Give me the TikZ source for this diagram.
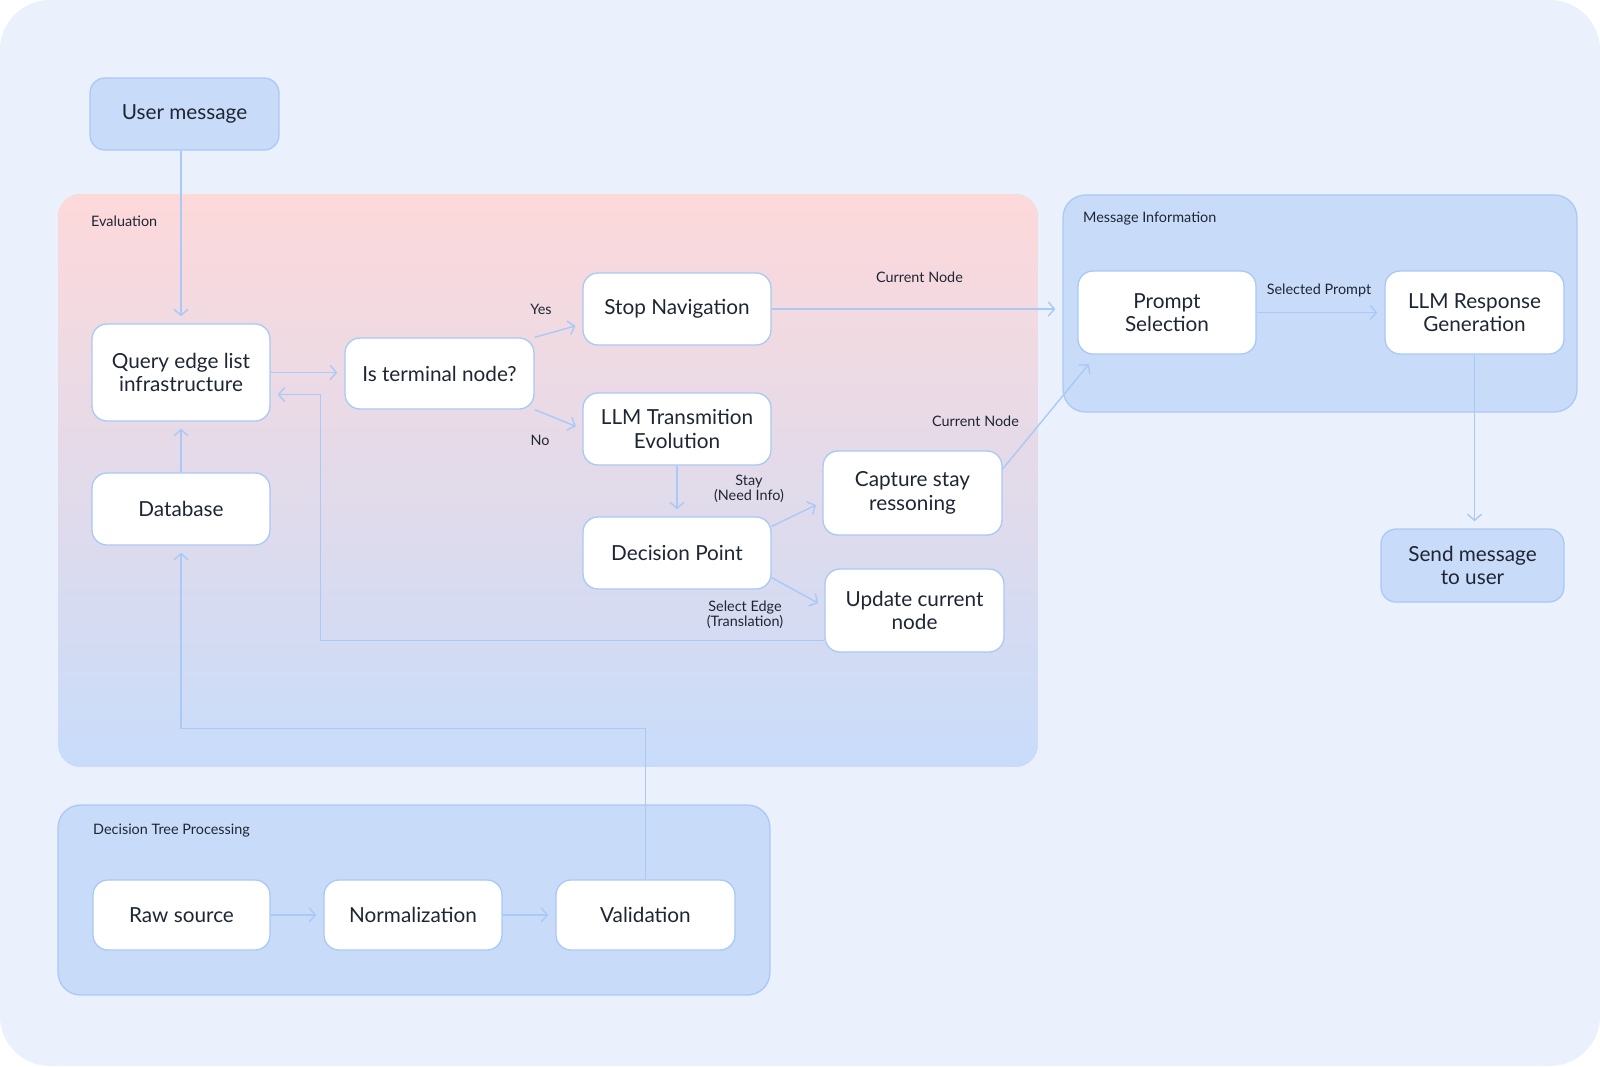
\documentclass[tikz,border=0pt]{standalone}
\usepackage{fontspec}
\setmainfont{Lato}
\usetikzlibrary{arrows.meta,calc}
\definecolor{bgblue}{HTML}{EAF1FD}
\definecolor{regblue}{HTML}{C8DCFA}
\definecolor{evalpink}{HTML}{FDD9DA}
\definecolor{edgeblue}{HTML}{A9C9F6}
\definecolor{ink}{HTML}{1F2633}

\begin{document}
\begin{tikzpicture}[
  x=0.02cm, y=-0.02cm,
  box/.style = {draw=edgeblue, line width=0.75pt, rounded corners=0.3cm, fill=white,
                align=center, text=ink, font=\fontsize{11.8}{13.4}\selectfont},
  region/.style = {draw=edgeblue, line width=0.75pt, rounded corners=0.45cm, fill=regblue},
  grouplbl/.style = {anchor=west, text=ink, font=\fontsize{8.2}{9.6}\selectfont},
  lbl/.style = {align=center, text=ink, font=\fontsize{8.2}{8.8}\selectfont},
  conn/.style = {draw=edgeblue, line width=0.8pt, shorten >=4pt,
                 -{Straight Barb[length=3.5pt,width=8pt]}}
]
  \useasboundingbox (0,0) rectangle (1600,1066);
  \fill[white] (0,0) rectangle (1600,1066);
  \fill[bgblue, rounded corners=1cm] (0,0) rectangle (1600,1066);

  \node[region, draw=none, top color=evalpink, bottom color=regblue,
        minimum width=19.6cm, minimum height=11.46cm] (evalbox) at (548,480.5) {};
  \node[region, minimum width=10.28cm, minimum height=4.34cm] (msgbox) at (1320,303.5) {};
  \node[region, minimum width=14.24cm, minimum height=3.8cm] (dtpbox) at (414,900) {};

  \node[grouplbl] (evallbl) at (85,221) {Evaluation};
  \node[grouplbl] (msglbl) at (1077,219) {Message Information};
  \node[grouplbl] (dtplbl) at (87,831) {Decision Tree Processing};

  \node[box, fill=regblue, minimum width=3.78cm, minimum height=1.44cm] (user) at (184.5,114) {User message};
  \node[box, minimum width=3.56cm, minimum height=1.94cm] (query) at (181,372.5) {Query edge list\\infrastructure};
  \node[box, minimum width=3.78cm, minimum height=1.42cm] (term) at (439.5,373.5) {Is terminal node?};
  \node[box, minimum width=3.76cm, minimum height=1.44cm] (stop) at (677,309) {Stop Navigation};
  \node[box, minimum width=3.76cm, minimum height=1.44cm] (llmt) at (677,429) {LLM Transmition\\Evolution};
  \node[box, minimum width=3.56cm, minimum height=1.44cm] (db) at (181,509) {Database};
  \node[box, minimum width=3.76cm, minimum height=1.44cm] (dec) at (677,553) {Decision Point};
  \node[box, minimum width=3.58cm, minimum height=1.68cm] (capt) at (912.5,493) {Capture stay\\ressoning};
  \node[box, minimum width=3.58cm, minimum height=1.66cm] (upd) at (914.5,610.5) {Update current\\node};
  \node[box, minimum width=3.56cm, minimum height=1.66cm] (prompt) at (1167,312.5) {Prompt\\Selection};
  \node[box, minimum width=3.58cm, minimum height=1.66cm] (llmr) at (1474.5,312.5) {LLM Response\\Generation};
  \node[box, fill=regblue, minimum width=3.66cm, minimum height=1.46cm] (send) at (1472.5,565.5) {Send message\\to user};
  \node[box, minimum width=3.54cm, minimum height=1.4cm] (raw) at (181.5,915) {Raw source};
  \node[box, minimum width=3.56cm, minimum height=1.4cm] (norm) at (413,915) {Normalization};
  \node[box, minimum width=3.58cm, minimum height=1.4cm] (val) at (645.5,915) {Validation};

  \draw[conn] (query.north |- user.south) -- (query.north);
  \draw[conn] (query.east) -- (term.west |- query.east);
  \draw[conn] (term.north east) -- ($(stop.west)+(0,15)$);
  \draw[conn] (term.south east) -- (llmt.west);
  \draw[conn] (stop.east) -- (msgbox.west |- stop.east);
  \draw[conn] (llmt.south) -- (dec.north);
  \draw[conn] ($(dec.north east)+(0,10)$) -- ($(capt.west)+(0,9)$);
  \draw[conn] ($(dec.south east)+(0,-12)$) -- ($(upd.west)+(0,-4)$);
  \draw[conn] ($(capt.east)+(0,-24)$) -- ($(prompt.south west)+(16,4)$);
  \draw[conn] ($(upd.west)+(0,30)$) -| ($(query.east)+(50,22)$) -- ($(query.east)+(0,22)$);
  \draw[conn] (db.north) -- (query.south);
  \draw[conn] (val.north) |- ($(db.south)+(0,183)$) -- (db.south);
  \draw[conn] (raw) -- (norm);
  \draw[conn] (norm) -- (val);
  \draw[conn] (prompt) -- (llmr);
  \draw[conn] (llmr.south) -- (llmr.south |- send.north);

  \node[lbl] (yeslbl) at (541,309) {Yes};
  \node[lbl] (nolbl) at (540,440) {No};
  \node[lbl] (curlbl) at (919.5,277.5) {Current Node};
  \node[lbl] (curlbltwo) at (975.5,421.5) {Current Node};
  \node[lbl] (staylbl) at (749,489) {Stay\\(Need Info)};
  \node[lbl] (sellbl) at (745,615) {Select Edge\\(Translation)};
  \node[lbl] (promptlbl) at (1319,290) {Selected Prompt};
\end{tikzpicture}
\end{document}
